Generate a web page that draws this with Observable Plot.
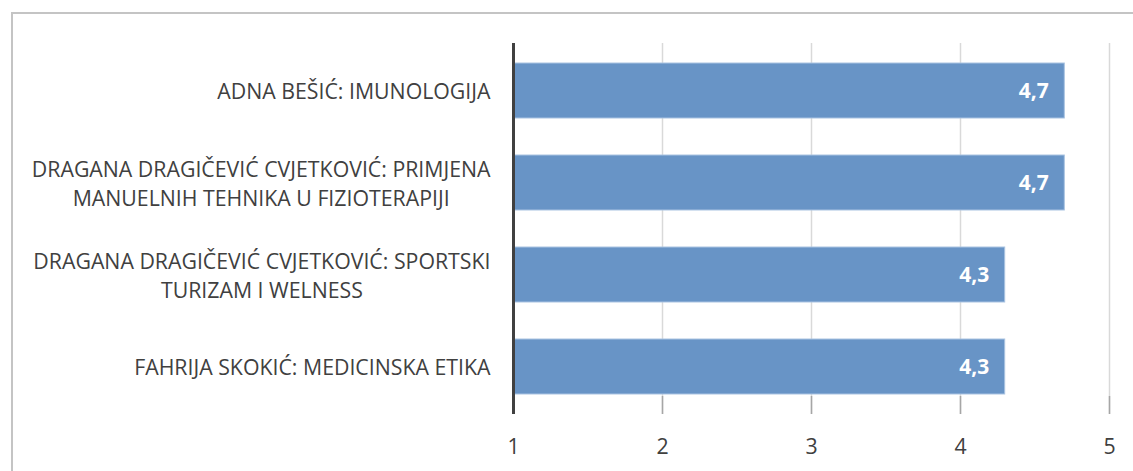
<!DOCTYPE html>
<html>
<head>
<meta charset="utf-8">
<script src="https://cdn.jsdelivr.net/npm/d3@7"></script>
<script src="https://cdn.jsdelivr.net/npm/@observablehq/plot@0.6"></script>
<style>
  html, body { margin: 0; padding: 0; background: #fff; overflow: hidden; }
  #wrap { position: relative; width: 1133px; height: 471px; }
  #border { position: absolute; left: 11px; top: 12px; width: 1300px; height: 700px;
            border-top: 2px solid #c4c4c4; border-left: 2px solid #c4c4c4; box-sizing: border-box; }
  #chart { position: absolute; left: 0; top: 0; }
</style>
</head>
<body>
<div id="wrap"><div id="border"></div><div id="chart"></div></div>
<script>
const categories = [
  "ADNA BEŠIĆ: IMUNOLOGIJA",
  "DRAGANA DRAGIČEVIĆ CVJETKOVIĆ: PRIMJENA\nMANUELNIH TEHNIKA U FIZIOTERAPIJI",
  "DRAGANA DRAGIČEVIĆ CVJETKOVIĆ: SPORTSKI\nTURIZAM I WELNESS",
  "FAHRIJA SKOKIĆ: MEDICINSKA ETIKA"
];
const values = [4.7, 4.7, 4.3, 4.3];
const valueLabels = ["4,7", "4,7", "4,3", "4,3"];
const xTicks = [1, 2, 3, 4, 5];
const gridTicks = [2, 3, 4, 5];

const data = categories.map((c, i) => ({c, v: values[i], lab: valueLabels[i]}));
const FONT = "'Open Sans', 'Noto Sans', sans-serif";

const plot = Plot.plot({
  width: 1133,
  height: 471,
  marginLeft: 513,
  marginRight: 24,
  marginTop: 43,
  marginBottom: 57,
  x: {domain: [1, 5], axis: null},
  y: {domain: categories, axis: null, paddingInner: 0.4, paddingOuter: 0.2},
  style: {fontFamily: FONT, background: "transparent"},
  marks: [
    Plot.ruleX(gridTicks, {stroke: "#d9d9d9", strokeWidth: 1.5}),
    Plot.ruleX(gridTicks, {stroke: "#a6a6a6", strokeWidth: 1.5, insetTop: 353}),
    Plot.barX(data, {x1: 1, x2: "v", y: "c", fill: "#6894c6", stroke: "#a9c3e2", strokeWidth: 1, insetLeft: 1.5}),
    Plot.ruleX([1], {stroke: "#404040", strokeWidth: 3}),
    Plot.text(data, {x: "v", y: "c", text: "lab", textAnchor: "end", dx: -16, fill: "white", fontWeight: "bold", fontSize: 21}),
    Plot.text(data, {x: 1, y: "c", text: "c", textAnchor: "end", dx: -23, dy: -1, fill: "#404040", fontSize: 21.3, lineHeight: 1.36, className: "ylab"}),
    Plot.text(xTicks, {x: d => d, frameAnchor: "bottom", lineAnchor: "middle", dy: 33, text: d => String(d), fill: "#404040", fontSize: 21.3})
  ]
});
document.getElementById("chart").appendChild(plot);

// Centre multi-line labels within their own block (block right-aligned to the axis)
plot.querySelectorAll("g.ylab text").forEach(t => {
  const spans = t.querySelectorAll("tspan");
  if (spans.length > 1) {
    let w = 0;
    spans.forEach(s => { w = Math.max(w, s.getComputedTextLength()); });
    t.setAttribute("text-anchor", "middle");
    spans.forEach(s => s.setAttribute("x", -w / 2));
  }
});
</script>
</body>
</html>
